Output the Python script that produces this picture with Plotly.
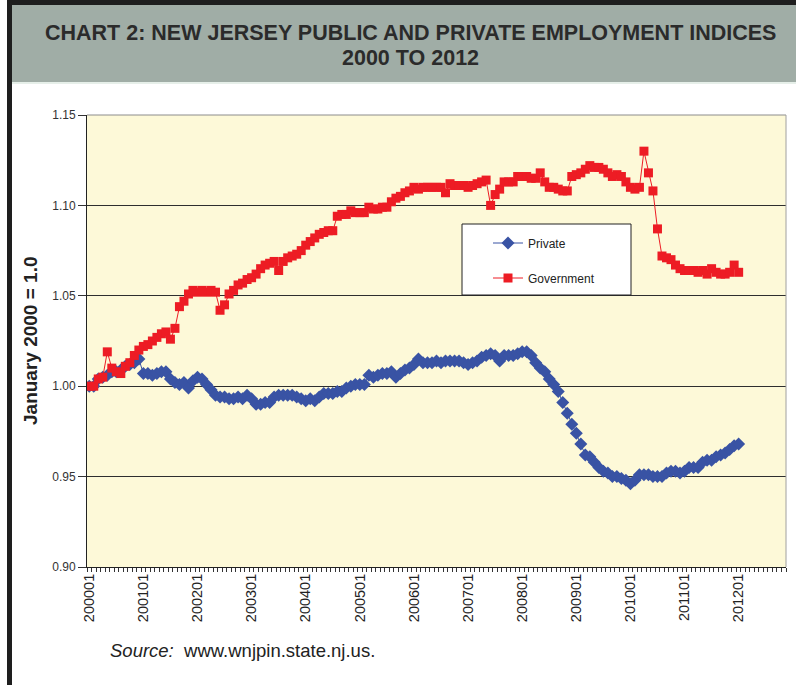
import plotly.graph_objects as go

# Monthly categories 200001 .. 201211 (axis), data to 201201
months = [f"{y}{m:02d}" for y in range(2000, 2013) for m in range(1, 13)][:155]
tick_labels = ["200001", "200101", "200201", "200301", "200401", "200501", "200601",
               "200701", "200801", "200901", "201001", "201101", "201201"]

private = [
    1.000, 1.000, 1.004, 1.005, 1.006, 1.008, 1.008, 1.009, 1.011, 1.012,
    1.013, 1.015, 1.007, 1.007, 1.006, 1.007, 1.008, 1.008, 1.004, 1.002,
    1.001, 1.002, 0.999, 1.003, 1.005, 1.004, 1.001, 0.998, 0.995, 0.994,
    0.994, 0.993, 0.993, 0.994, 0.993, 0.995, 0.993, 0.990, 0.990, 0.991,
    0.991, 0.994, 0.995, 0.995, 0.995, 0.995, 0.994, 0.993, 0.992, 0.993,
    0.992, 0.994, 0.996, 0.996, 0.996, 0.997, 0.997, 0.999, 1.000, 1.001,
    1.001, 1.001, 1.006, 1.005, 1.006, 1.007, 1.007, 1.008, 1.005, 1.007,
    1.009, 1.010, 1.012, 1.015, 1.013, 1.013, 1.013, 1.014, 1.013, 1.014,
    1.014, 1.014, 1.014, 1.013, 1.012, 1.013, 1.014, 1.016, 1.017, 1.018,
    1.017, 1.014, 1.017, 1.017, 1.017, 1.018, 1.019, 1.019, 1.017, 1.013,
    1.010, 1.008, 1.004, 1.001, 0.997, 0.991, 0.985, 0.979, 0.974, 0.968,
    0.962, 0.961, 0.958, 0.955, 0.953, 0.952, 0.950, 0.950, 0.949, 0.948,
    0.946, 0.948, 0.951, 0.951, 0.951, 0.950, 0.950, 0.950, 0.952, 0.953,
    0.953, 0.952, 0.953, 0.955, 0.955, 0.955, 0.958, 0.959, 0.959, 0.961,
    0.962, 0.963, 0.965, 0.967, 0.968,
]

government = [
    1.000, 1.000, 1.004, 1.005, 1.019, 1.010, 1.008, 1.007, 1.011, 1.013,
    1.017, 1.020, 1.022, 1.023, 1.025, 1.027, 1.029, 1.030, 1.026, 1.032,
    1.044, 1.047, 1.051, 1.053, 1.052, 1.053, 1.052, 1.053, 1.052, 1.042,
    1.045, 1.051, 1.053, 1.056, 1.057, 1.059, 1.060, 1.062, 1.065, 1.067,
    1.068, 1.069, 1.064, 1.069, 1.071, 1.072, 1.073, 1.075, 1.078, 1.080,
    1.082, 1.084, 1.085, 1.086, 1.086, 1.094, 1.095, 1.095, 1.097, 1.096,
    1.096, 1.096, 1.099, 1.098, 1.098, 1.099, 1.099, 1.102, 1.104, 1.105,
    1.107, 1.108, 1.110, 1.109, 1.110, 1.110, 1.110, 1.110, 1.110, 1.107,
    1.112, 1.111, 1.111, 1.111, 1.110, 1.111, 1.112, 1.113, 1.114, 1.100,
    1.106, 1.109, 1.113, 1.113, 1.113, 1.116, 1.116, 1.116, 1.115, 1.115,
    1.118, 1.113, 1.110, 1.110, 1.109, 1.108, 1.108, 1.116, 1.117, 1.118,
    1.120, 1.122, 1.121, 1.121, 1.120, 1.118, 1.116, 1.117, 1.116, 1.113,
    1.110, 1.109, 1.110, 1.130, 1.118, 1.108, 1.087, 1.072, 1.071, 1.070,
    1.067, 1.065, 1.064, 1.064, 1.064, 1.063, 1.064, 1.062, 1.065, 1.063,
    1.062, 1.062, 1.063, 1.067, 1.063,
]

BLUE = "#3953a4"
RED = "#ed1c24"

W, H = 796, 685
L, R, T, B = 87, 786, 115, 567


def px(x):
    return (x - L) / (R - L)


def py(y):
    return (B - y) / (B - T)


fig = go.Figure()
fig.add_trace(go.Scatter(
    x=months[:len(private)], y=private, name="Private", mode="lines+markers",
    line=dict(color=BLUE, width=1),
    marker=dict(symbol="diamond", size=10, color=BLUE, line=dict(width=0)),
    legend="legend", showlegend=True,
))
fig.add_trace(go.Scatter(
    x=months[:len(government)], y=government, name="Government", mode="lines+markers",
    line=dict(color=RED, width=1),
    marker=dict(symbol="square", size=9, color=RED, line=dict(width=0)),
    legend="legend2", showlegend=True,
))

ticktext = [m if m in tick_labels else "" for m in months]

fig.update_layout(
    width=W, height=H,
    showlegend=True,
    margin=dict(l=L, r=W - R, t=T, b=H - B),
    paper_bgcolor="white",
    plot_bgcolor="#fdf9d8",
    font=dict(family="Liberation Sans, Arial, sans-serif", size=12, color="#2a2a2a"),
    xaxis=dict(
        type="category", categoryorder="array", categoryarray=months,
        range=[-0.5, len(months) - 0.5],
        tickmode="array", tickvals=months, ticktext=ticktext,
        tickson="boundaries", ticks="outside", ticklen=4, tickcolor="#333",
        tickangle=-90, tickfont=dict(size=14.5, color="#222"),
        showline=True, linecolor="#222", linewidth=1,
        showgrid=False, zeroline=False,
    ),
    yaxis=dict(
        range=[0.90, 1.15], tickvals=[0.90, 0.95, 1.00, 1.05, 1.10, 1.15],
        tickformat=".2f", ticks="outside", ticklen=8, tickcolor="#333",
        tickfont=dict(size=12, color="#333"),
        showline=True, linecolor="#222", linewidth=1,
        showgrid=True, gridcolor="#2e2e2e", gridwidth=1, zeroline=False,
    ),
    legend=dict(
        x=px(488), y=py(243), xanchor="left", yanchor="middle",
        bgcolor="rgba(0,0,0,0)", borderwidth=0,
        font=dict(size=12, color="#222"),
    ),
    legend2=dict(
        x=px(488), y=py(278), xanchor="left", yanchor="middle",
        bgcolor="rgba(0,0,0,0)", borderwidth=0,
        font=dict(size=12, color="#222"),
    ),
    shapes=[
        # left dark frame and top dark frame
        dict(type="rect", xref="paper", yref="paper", x0=px(7), x1=px(12), y0=py(685), y1=py(0),
             fillcolor="#1e1e1e", line=dict(width=0), layer="below"),
        dict(type="rect", xref="paper", yref="paper", x0=px(7), x1=px(796), y0=py(5), y1=py(0),
             fillcolor="#1e1e1e", line=dict(width=0), layer="below"),
        # title band
        dict(type="rect", xref="paper", yref="paper", x0=px(12), x1=px(796), y0=py(82), y1=py(5),
             fillcolor="#a0ada6", line=dict(width=0), layer="below"),
        dict(type="rect", xref="paper", yref="paper", x0=px(12), x1=px(796), y0=py(84), y1=py(82),
             fillcolor="#e6efe9", line=dict(width=0), layer="below"),
        # plot border top/right (grey)
        dict(type="line", xref="paper", yref="paper", x0=0, x1=1, y0=1, y1=1,
             line=dict(color="#8c8c8c", width=1), layer="above"),
        dict(type="line", xref="paper", yref="paper", x0=1, x1=1, y0=0, y1=1,
             line=dict(color="#a0a0a0", width=1), layer="above"),
        # legend box
        dict(type="rect", xref="paper", yref="paper", x0=px(462), x1=px(631), y0=py(295), y1=py(224),
             fillcolor="white", line=dict(color="#222", width=1), layer="above"),
    ],
    annotations=[
        dict(text="<b>CHART 2: NEW JERSEY PUBLIC AND PRIVATE EMPLOYMENT INDICES</b>",
             xref="paper", yref="paper", x=px(410), y=py(33), xanchor="center", yanchor="middle",
             showarrow=False, font=dict(size=21.5, color="#2b2b2b")),
        dict(text="<b>2000 TO 2012</b>",
             xref="paper", yref="paper", x=px(410), y=py(58), xanchor="center", yanchor="middle",
             showarrow=False, font=dict(size=21.5, color="#2b2b2b")),
        dict(text="<b>January 2000 = 1.0</b>", textangle=-90,
             xref="paper", yref="paper", x=px(30), y=py(341), xanchor="center", yanchor="middle",
             showarrow=False, font=dict(size=19, color="#222")),
        dict(text="<i>Source:</i>&nbsp;&nbsp;www.wnjpin.state.nj.us.",
             xref="paper", yref="paper", x=px(108), y=py(650), xanchor="left", yanchor="middle",
             showarrow=False, font=dict(size=18.5, color="#222")),
    ],
)

fig.write_html("out.html", config={"displayModeBar": False},
               post_script="document.body.style.margin='0';")
